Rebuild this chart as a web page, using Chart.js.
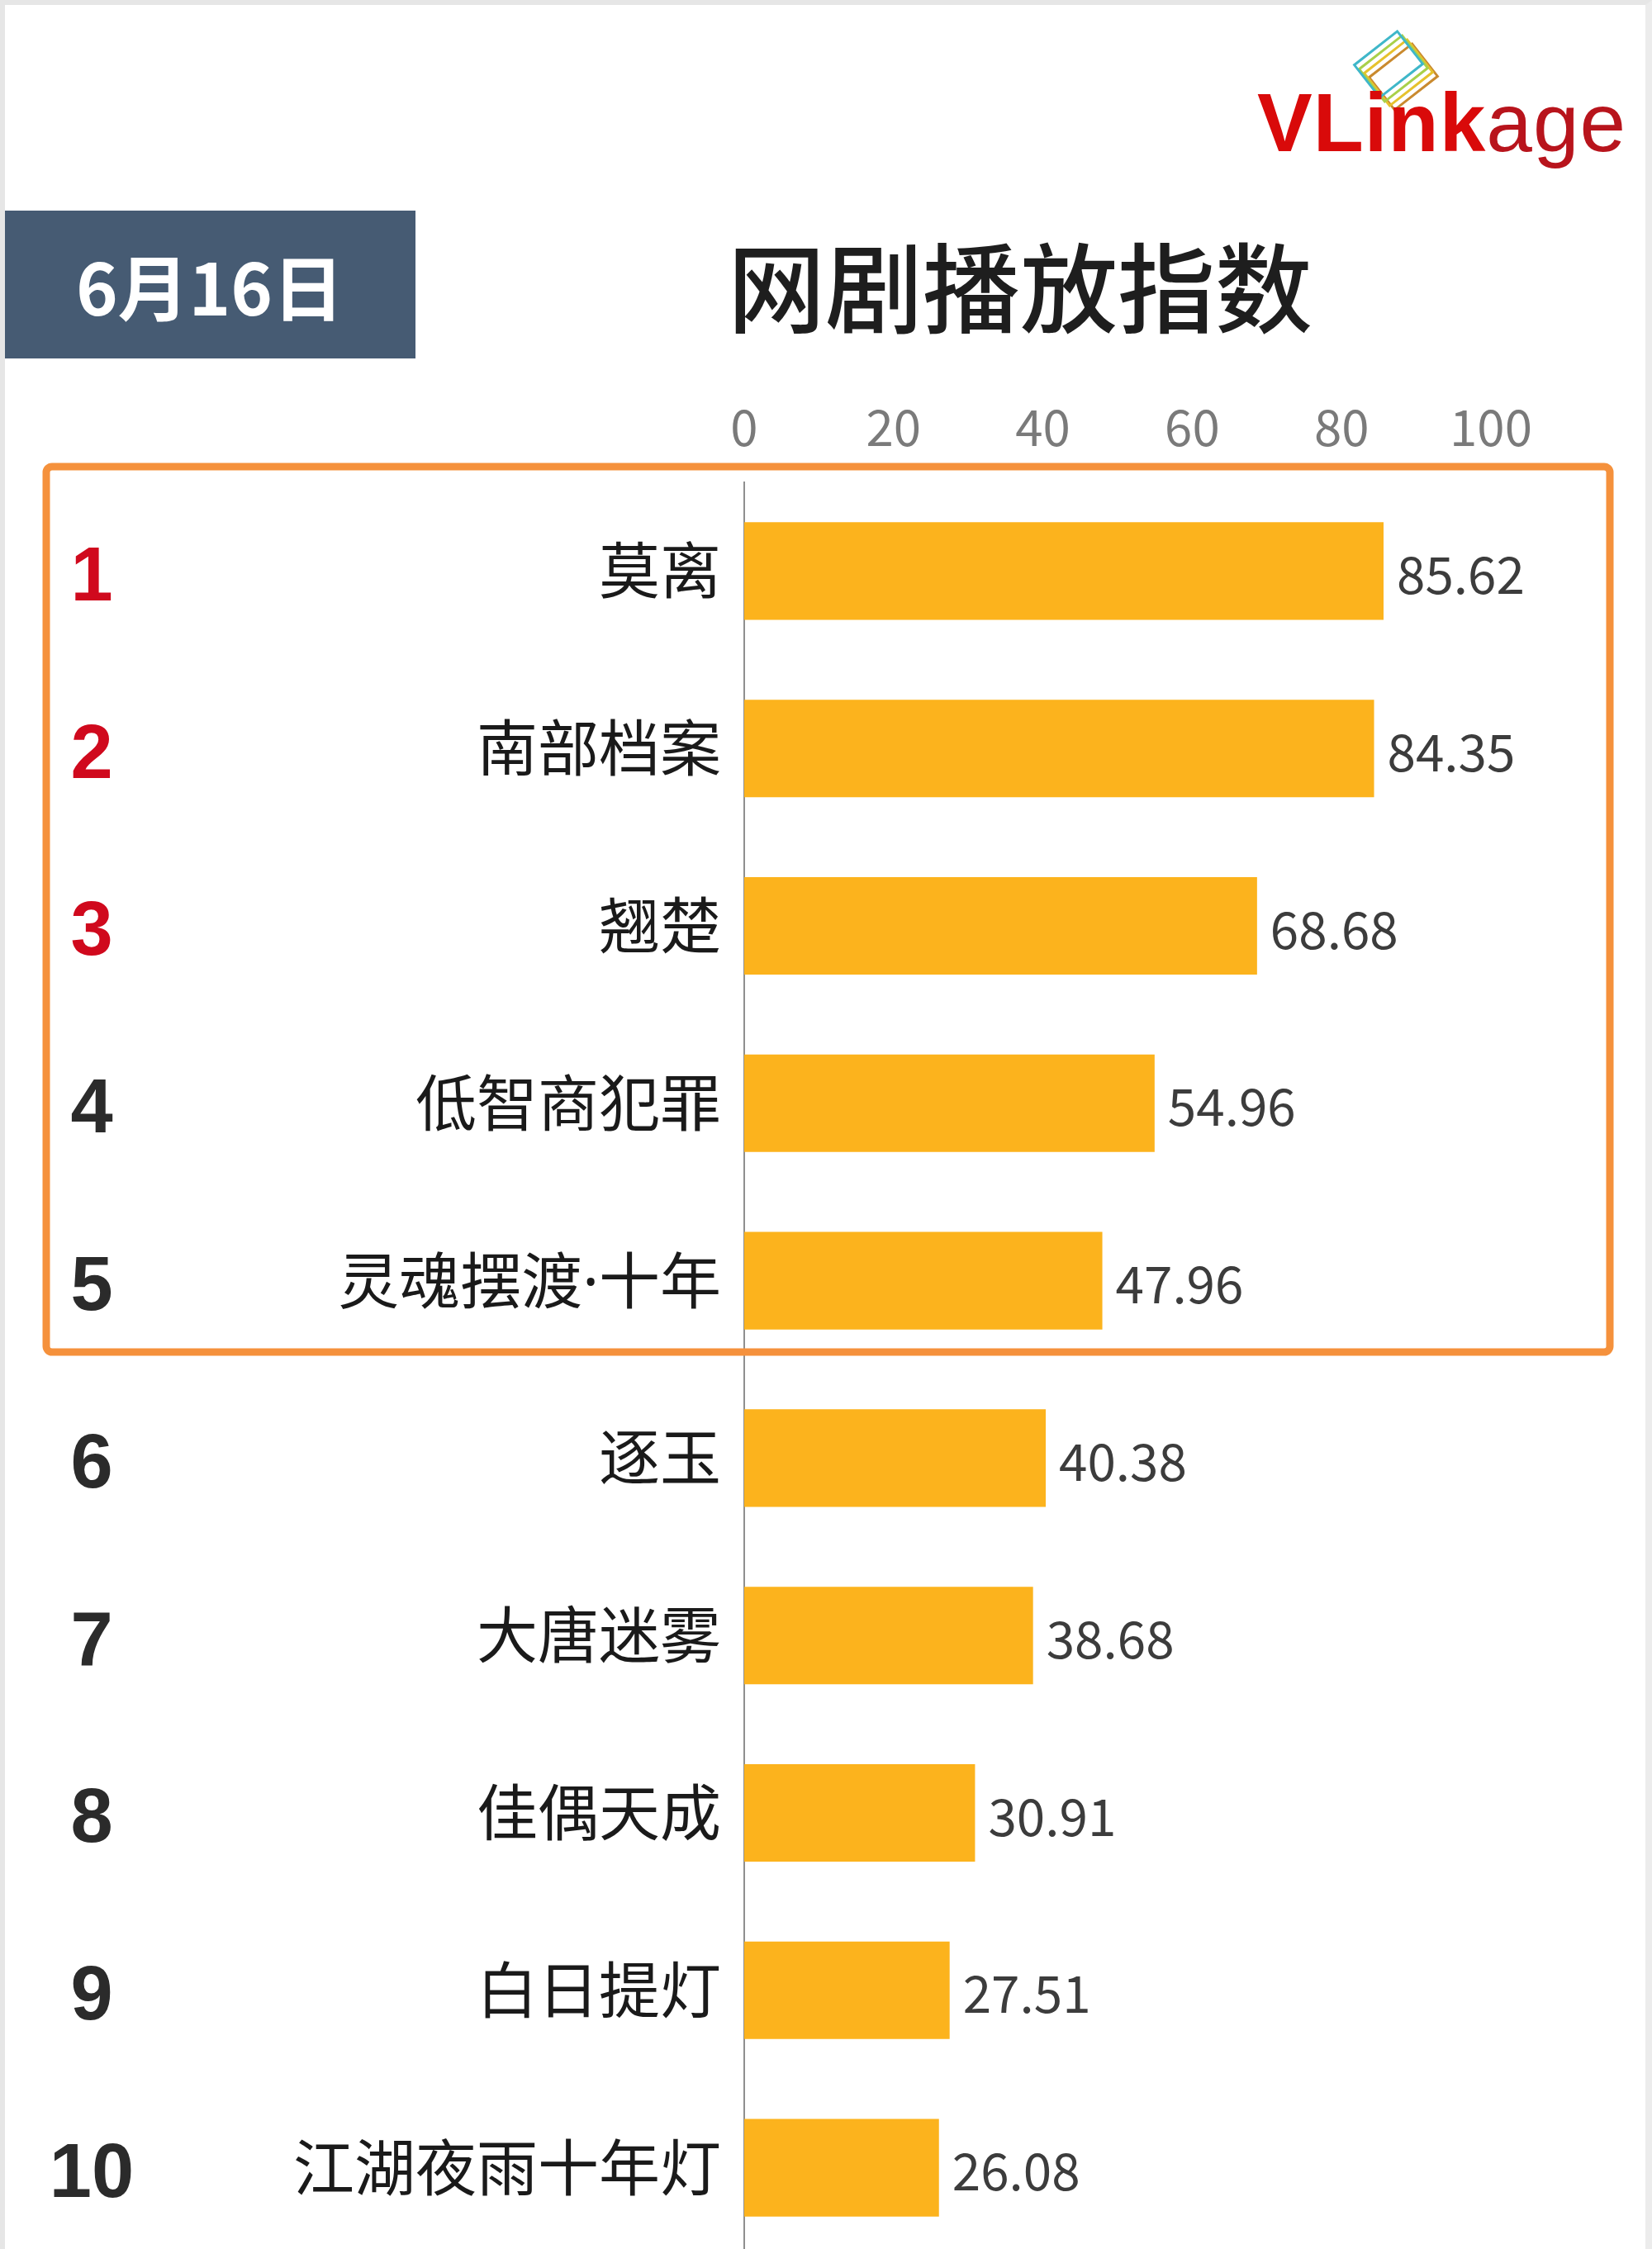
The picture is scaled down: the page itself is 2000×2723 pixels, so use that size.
<!DOCTYPE html>
<html>
<head>
<meta charset="utf-8">
<script src="https://cdn.jsdelivr.net/npm/chart.js@4/dist/chart.umd.min.js"></script>
<style>
  html, body { margin: 0; padding: 0; background: #fff; overflow: hidden; }
  #page { position: relative; width: 2000px; height: 2723px; overflow: hidden; background: #fff; }
  #frame { position: absolute; left: 0; top: 0; width: 2000px; height: 2723px; box-sizing: border-box;
           border-top: 6px solid #e6e6e6; border-left: 6px solid #e6e6e6; border-right: 8px solid #ececec; pointer-events: none; z-index: 5; }
  #chartBox { position: absolute; left: 0; top: 0; width: 2000px; height: 2822px; }
  #dateTag { position: absolute; left: 5px; top: 255px; width: 498px; height: 179px; background: #465b73;
             color: #fff; font: bold 86px "Noto Sans CJK SC", sans-serif; display: flex; align-items: center; justify-content: center; }
  #title { position: absolute; left: 780px; top: 268px; width: 910px; text-align: center;
           font: 500 118px "Noto Sans CJK SC", sans-serif; color: #1e1e1e; line-height: 150px; }
  #logo { position: absolute; left: 1522px; top: 88px; font-family: "Liberation Sans", Arial, sans-serif; font-size: 100px; line-height: 120px; white-space: nowrap; letter-spacing: 1px; }
  #logo .b { color: #d90a0a; font-weight: bold; }
  #logo .n { color: #b8141c; font-weight: normal; }
  #logoIcon { position: absolute; left: 1626px; top: 36px; }
</style>
</head>
<body>
<div id="page">
  <div id="chartBox"><canvas id="rankChart"></canvas></div>
  <div id="dateTag">6月16日</div>
  <div id="title">网剧播放指数</div>
  <svg id="logoIcon" width="130" height="110" viewBox="0 0 130 110">
    <g fill="none" stroke-width="3">
      <rect x="40" y="32" width="66" height="50" stroke="#c98a2f" transform="rotate(-38 73 57)"/>
      <rect x="34" y="27" width="66" height="50" stroke="#e6c22d" transform="rotate(-38 67 52)"/>
      <rect x="28" y="22" width="66" height="50" stroke="#a9d04a" transform="rotate(-38 61 47)"/>
      <rect x="22" y="17" width="66" height="50" stroke="#3fb7c9" transform="rotate(-38 55 42)"/>
    </g>
  </svg>
  <div id="logo"><span class="b">VLink</span><span class="n">age</span></div>
  <div id="frame"></div>
</div>
<script>
// 网剧播放指数 6月16日
const titles = ['莫离', '南部档案', '翘楚', '低智商犯罪', '灵魂摆渡·十年', '逐玉', '大唐迷雾', '佳偶天成', '白日提灯', '江湖夜雨十年灯'];
const values = [85.62, 84.35, 68.68, 54.96, 47.96, 40.38, 38.68, 30.91, 27.51, 26.08];
const ranks = ['1', '2', '3', '4', '5', '6', '7', '8', '9', '10'];
const xTicks = [0, 20, 40, 60, 80, 100];

const overlay = {
    id: 'overlay',
    afterDatasetsDraw(chart) {
        const ctx = chart.ctx;
        const y = chart.scales.y;
        const meta = chart.getDatasetMeta(0);
        ctx.save();

        // value labels next to bars
        ctx.font = '400 62px "Noto Sans CJK SC"';
        ctx.fillStyle = '#3c3c3c';
        ctx.textAlign = 'left';
        ctx.textBaseline = 'middle';
        meta.data.forEach(function (bar, i) {
            ctx.fillText(values[i].toFixed(2), bar.x + 16, bar.y + 4);
        });

        // rank numbers, top 3 in red
        ctx.font = 'bold 92px "Liberation Sans"';
        ctx.textAlign = 'center';
        ranks.forEach(function (r, i) {
            ctx.fillStyle = i < 3 ? '#d0091d' : '#2b2b2b';
            ctx.fillText(r, 111, y.getPixelForValue(i) + 10);
        });

        // orange frame round the top 5
        const top = chart.chartArea.top - 19;
        const bottom = (y.getPixelForValue(4) + y.getPixelForValue(5)) / 2 - 21;
        ctx.strokeStyle = '#f5913c';
        ctx.lineWidth = 9;
        ctx.beginPath();
        ctx.roundRect(56, top, 1893, bottom - top, 7);
        ctx.stroke();
        ctx.restore();
    }
};

const ctx = document.getElementById('rankChart').getContext('2d');
window.rankChart = new Chart(ctx, {
    type: 'bar',
    data: {
        labels: titles,
        datasets: [{
            label: '播放指数',
            data: values,
            backgroundColor: '#fcb31d',
            borderWidth: 0,
            barPercentage: 0.55,
            categoryPercentage: 1
        }]
    },
    options: {
        indexAxis: 'y',
        responsive: true,
        maintainAspectRatio: false,
        devicePixelRatio: 1,
        animation: false,
        layout: { padding: { top: 474, right: 195, bottom: 90, left: 0 } },
        plugins: {
            legend: { display: false },
            tooltip: { enabled: false }
        },
        scales: {
            x: {
                position: 'top',
                min: 0,
                max: 100,
                afterBuildTicks(scale) {
                    scale.ticks = xTicks.map(function (v) { return { value: v }; });
                },
                afterFit(scale) { scale.height = 110; },
                grid: { display: false, drawTicks: false },
                border: { display: false },
                ticks: {
                    padding: 31,
                    color: '#7a7a7a',
                    font: { family: 'Noto Sans CJK SC', size: 60, lineHeight: 1.2 }
                }
            },
            y: {
                afterFit(scale) { scale.width = 901; },
                grid: { display: false, drawTicks: false },
                border: { display: true, color: '#8f8f8f', width: 2 },
                ticks: {
                    padding: 28,
                    labelOffset: 6,
                    color: '#1a1a1a',
                    font: { family: '"Noto Sans", "Noto Sans CJK SC"', size: 74 }
                }
            }
        }
    },
    plugins: [overlay]
});
</script>
</body>
</html>
